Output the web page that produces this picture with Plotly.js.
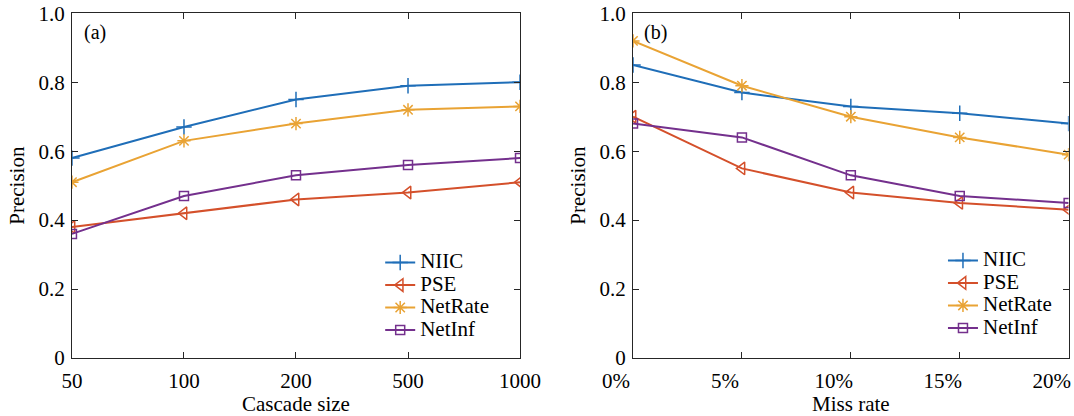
<!DOCTYPE html>
<html><head><meta charset="utf-8">
<script src="https://cdn.plot.ly/plotly-3.0.1.min.js"></script>
<style>html,body{margin:0;padding:0;background:#fff}#chart{width:1074px;height:416px}</style>
</head><body><div id="chart"></div>
<script>
const cascadeSizes = ["50","100","200","500","1000"];
const missRates = ["0%","5%","10%","15%","20%"];
const seriesNames = ["NIIC","PSE","NetRate","NetInf"];
// panel (a): precision vs cascade size
const aNIIC    = [0.58, 0.67, 0.75, 0.79, 0.80];
const aPSE     = [0.38, 0.42, 0.46, 0.48, 0.51];
const aNetRate = [0.51, 0.63, 0.68, 0.72, 0.73];
const aNetInf  = [0.36, 0.47, 0.53, 0.56, 0.58];
// panel (b): precision vs miss rate
const bNIIC    = [0.85, 0.77, 0.73, 0.71, 0.68];
const bPSE     = [0.70, 0.55, 0.48, 0.45, 0.43];
const bNetRate = [0.92, 0.79, 0.70, 0.64, 0.59];
const bNetInf  = [0.68, 0.64, 0.53, 0.47, 0.45];

const colors = ["#1F6EB8","#D4502B","#E9A334","#74308D"];
const symbols = ["cross-thin-open","triangle-left-open","asterisk-open","square-open"];
const sizes = [11, 11, 11, 9];
const font = "'Liberation Serif', 'Times New Roman', Times, serif";

function mk(x, y, i, xa, ya, leg) {
  return {x: x, y: y,
    name: "<span style='font-size:21px'>" + seriesNames[i] + "</span>",
    type: "scatter", mode: "lines+markers",
    xaxis: xa, yaxis: ya, legend: leg,
    line: {color: colors[i], width: 2},
    marker: {symbol: symbols[i], size: sizes[i], color: colors[i], line: {color: colors[i], width: 1.5}}};
}
const aData = [aNIIC, aPSE, aNetRate, aNetInf];
const bData = [bNIIC, bPSE, bNetRate, bNetInf];
const traces = [];
aData.forEach((d, i) => traces.push(mk(cascadeSizes, d, i, "x", "y", "legend")));
bData.forEach((d, i) => traces.push(mk(missRates, d, i, "x2", "y2", "legend2")));

const axCommon = {showline: true, linecolor: "#262626", linewidth: 1, mirror: "ticks",
  ticks: "inside", ticklen: 6, tickcolor: "#262626", showgrid: false, zeroline: false,
  tickfont: {family: font, size: 21, color: "#000"}};
const xCommon = Object.assign({}, axCommon, {type: "category", range: [0, 4], ticklabelstandoff: 4});
const yCommon = Object.assign({}, axCommon, {range: [0, 1], tickvals: [0, 0.2, 0.4, 0.6, 0.8, 1.0],
  ticktext: ["0", "0.2", "0.4", "0.6", "0.8", "1.0"], ticklabelstandoff: 2});
const yDom = [0.1394, 0.968];
const titleFont = {family: font, size: 21, color: "#000"};
const legCommon = {bgcolor: "rgba(0,0,0,0)", borderwidth: 0, font: {family: font, size: 15, color: "#000"},
  xanchor: "left", yanchor: "top", tracegroupgap: 0, itemwidth: 30};

const layout = {
  width: 1074, height: 416, margin: {l: 0, r: 0, t: 0, b: 0},
  paper_bgcolor: "#fff", plot_bgcolor: "#fff",
  font: {family: font, color: "#000"},
  xaxis: Object.assign({}, xCommon, {domain: [0.0670, 0.4842], anchor: "y",
    title: {text: "Cascade size", font: titleFont, standoff: 2}}),
  yaxis: Object.assign({}, yCommon, {domain: yDom, anchor: "x",
    title: {text: "Precision", font: titleFont, standoff: 8}}),
  xaxis2: Object.assign({}, xCommon, {domain: [0.5894, 0.995], anchor: "y2", ticklabelshift: -17,
    title: {text: "Miss rate", font: titleFont, standoff: 2}}),
  yaxis2: Object.assign({}, yCommon, {domain: yDom, anchor: "x2",
    title: {text: "Precision", font: titleFont, standoff: 8}}),
  legend: Object.assign({}, legCommon, {x: 0.354, y: 0.408}),
  legend2: Object.assign({}, legCommon, {x: 0.878, y: 0.413}),
  annotations: [
    {text: "(a)", xref: "paper", yref: "paper", x: 0.076, y: 0.955, xanchor: "left", yanchor: "top",
     showarrow: false, font: {family: font, size: 20, color: "#000"}},
    {text: "(b)", xref: "paper", yref: "paper", x: 0.598, y: 0.955, xanchor: "left", yanchor: "top",
     showarrow: false, font: {family: font, size: 20, color: "#000"}}
  ],
  showlegend: true
};
Plotly.newPlot("chart", traces, layout, {displayModeBar: false, staticPlot: true});
</script></body></html>
